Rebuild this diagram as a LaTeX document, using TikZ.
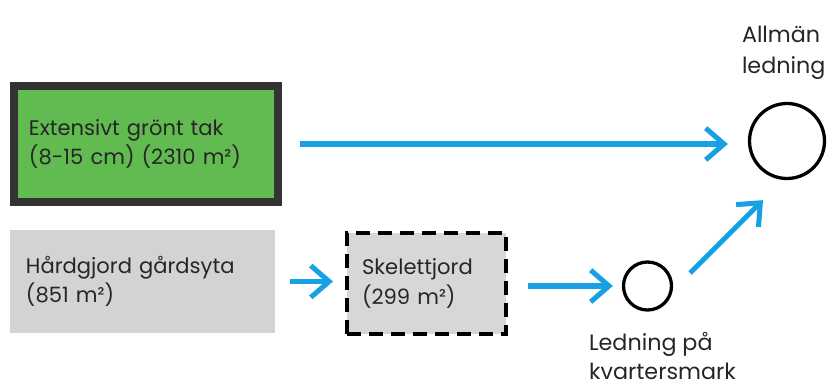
\documentclass[tikz,border=0pt]{standalone}
\usepackage{fontspec}
\setmainfont{Poppins}
\usetikzlibrary{positioning, arrows.meta}

\definecolor{flowblue}{HTML}{17A0E4}
\definecolor{roofgreen}{HTML}{62BB50}
\definecolor{roofedge}{HTML}{333333}
\definecolor{pavedgray}{HTML}{D3D3D3}
\definecolor{soilgray}{HTML}{D7D7D7}

\begin{document}
\begin{tikzpicture}[x=0.03cm, y=-0.03cm,
    every node/.style={font=\fontsize{18}{25}\selectfont, text=black!85},
    flow/.style={draw=flowblue, line width=4.3pt, -{Straight Barb[length=0.55cm, width=0.95cm]}},
    surface/.style={align=left, inner ysep=0pt},
    pipe/.style={circle, draw, line width=2.8pt}]
    \useasboundingbox (0,0) rectangle (837,391);
    % Surfaces
    \node[surface, draw=roofedge, fill=roofgreen, line width=0.24cm, minimum height=3.48cm, text width=7.02cm, inner xsep=0.45cm](roof) at (146,144){Extensivt grönt tak\\(8-15 cm) (2310 m²)};
    \node[surface, fill=pavedgray, minimum height=3.09cm, text width=6.99cm, inner xsep=0.48cm](paved) at (142.5,281.5){Hårdgjord gårdsyta\\(851 m²)};
    \node[surface, draw, fill=soilgray, dash pattern=on 0.42cm off 0.24cm, line width=3.4pt, minimum height=3.03cm, text width=3.87cm, inner xsep=0.45cm](skel) at (426.5,283.5){Skelettjord\\(299 m²)};
    % Pipes
    \node[pipe, minimum size=2.25cm](big) at (787,141){};
    \node[pipe, minimum size=1.44cm](small) at (647.5,286){};
    \node[align=left, font=\fontsize{19}{26}\selectfont, above=0.55cm of big, xshift=-0.1cm](bigname){Allmän\\ledning};
    \node[align=left, font=\fontsize{19}{25}\selectfont, below=0.5cm of small, xshift=0.45cm](smallname){Ledning på\\kvartersmark};
    % Flows
    \draw[flow, shorten <=0.54cm, shorten >=0.6cm] (roof.east) -- (roof.east -| big.west);
    \draw[flow, shorten <=0.45cm, shorten >=0.36cm] (paved.east) -- (paved.east -| skel.west);
    \draw[flow, shorten <=0.6cm, shorten >=0.27cm] (skel.east |- small) -- (small);
    \draw[flow] ([xshift=0.51cm, yshift=0.39cm]small.east) -- ([xshift=-0.72cm, yshift=-0.6cm]big.south);
\end{tikzpicture}
\end{document}
